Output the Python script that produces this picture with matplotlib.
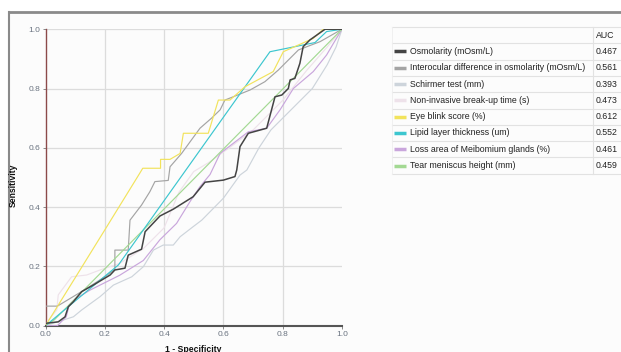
import matplotlib
matplotlib.use("Agg")
import matplotlib.pyplot as plt
from matplotlib.lines import Line2D
from matplotlib.patches import Rectangle

plt.rcParams['font.family'] = ['Liberation Sans', 'DejaVu Sans']

W, H = 621, 352

# ROC curves (1 - specificity, sensitivity)
osm_x = [0, 0.0, 0.043, 0.066, 0.077, 0.094, 0.122, 0.161, 0.218, 0.234, 0.268, 0.279, 0.324, 0.336,
         0.386, 0.431, 0.498, 0.538, 0.6, 0.639, 0.645, 0.656, 0.684, 0.746, 0.774, 0.797, 0.819,
         0.825, 0.841, 0.858, 0.869, 0.892, 0.943, 1.0]
osm_y = [0, 0.008, 0.013, 0.03, 0.064, 0.081, 0.115, 0.137, 0.171, 0.188, 0.194, 0.238, 0.258, 0.317,
         0.37, 0.393, 0.435, 0.484, 0.491, 0.503, 0.525, 0.604, 0.649, 0.666, 0.772, 0.778, 0.8,
         0.829, 0.834, 0.885, 0.941, 0.964, 1.0, 1.0]

inter_x = [0, 0, 0.04, 0.08, 0.13, 0.2, 0.234, 0.234, 0.279, 0.285, 0.324, 0.352, 0.369, 0.414, 0.42,
           0.459, 0.521, 0.56, 0.589, 0.605, 0.633, 0.69, 0.74, 0.785, 0.853, 0.926, 1.0]
inter_y = [0, 0.066, 0.066, 0.09, 0.12, 0.165, 0.19, 0.255, 0.255, 0.356, 0.407, 0.452, 0.486, 0.49,
           0.536, 0.581, 0.666, 0.70, 0.728, 0.761, 0.772, 0.795, 0.823, 0.862, 0.93, 0.958, 1.0]

schirmer_x = [0, 0.094, 0.122, 0.184, 0.229, 0.291, 0.33, 0.364, 0.397, 0.431, 0.454, 0.498, 0.527,
              0.6, 0.656, 0.679, 0.72, 0.76, 0.8, 0.85, 0.9, 0.95, 0.98, 1.0]
schirmer_y = [0, 0.03, 0.053, 0.098, 0.137, 0.165, 0.199, 0.255, 0.272, 0.272, 0.3, 0.334, 0.356,
              0.43, 0.508, 0.525, 0.6, 0.66, 0.7, 0.75, 0.8, 0.88, 0.94, 1.0]

nibut_x = [0, 0.01, 0.038, 0.043, 0.088, 0.139, 0.184, 0.25, 0.33, 0.4, 0.45, 0.5, 0.55, 0.62, 0.7,
           0.8, 0.88, 0.95, 1.0]
nibut_y = [0, 0.019, 0.053, 0.104, 0.165, 0.171, 0.188, 0.21, 0.26, 0.33, 0.45, 0.52, 0.55, 0.6, 0.66,
           0.76, 0.86, 0.94, 1.0]

blink_x = [0, 0.2, 0.319, 0.328, 0.388, 0.388, 0.42, 0.454, 0.465, 0.549, 0.583, 0.622, 0.673, 0.768,
           0.802, 0.903, 0.937, 1.0]
blink_y = [0, 0.323, 0.516, 0.531, 0.531, 0.561, 0.561, 0.581, 0.649, 0.649, 0.761, 0.761, 0.806, 0.857,
           0.924, 0.969, 1.0, 1.0]

lipid_x = [0, 0.246, 0.757, 0.909, 0.948, 1.0]
lipid_y = [0, 0.205, 0.924, 0.955, 0.992, 1.0]

loss_x = [0, 0.04, 0.07, 0.08, 0.1, 0.15, 0.25, 0.33, 0.386, 0.442, 0.487, 0.521, 0.555, 0.589, 0.684,
          0.746, 0.791, 0.836, 0.903, 0.948, 0.971, 1.0]
loss_y = [0, 0.0, 0.03, 0.07, 0.09, 0.12, 0.17, 0.22, 0.29, 0.345, 0.418, 0.469, 0.51, 0.581, 0.654,
          0.666, 0.728, 0.8, 0.857, 0.913, 0.952, 1.0]

tear_x = [0, 0.03, 1.0]
tear_y = [0, 0.02, 1.0]

names = ["Osmolarity (mOsm/L)",
         "Interocular difference in osmolarity (mOsm/L)",
         "Schirmer test (mm)",
         "Non-invasive break-up time (s)",
         "Eye blink score (%)",
         "Lipid layer thickness (um)",
         "Loss area of Meibomium glands (%)",
         "Tear meniscus height (mm)"]
auc = ["0.467", "0.561", "0.393", "0.473", "0.612", "0.552", "0.461", "0.459"]
colors = ["#444444", "#a4a4a4", "#cdd4db", "#eee2ea", "#f2e35c", "#3cc6cf", "#c9a6dc", "#a3d993"]
series = [(osm_x, osm_y), (inter_x, inter_y), (schirmer_x, schirmer_y), (nibut_x, nibut_y),
          (blink_x, blink_y), (lipid_x, lipid_y), (loss_x, loss_y), (tear_x, tear_y)]


def fx(px):
    return px / W


def fy(py):
    return 1 - py / H


fig = plt.figure(figsize=(W / 100, H / 100), dpi=100)
fig.patch.set_facecolor("white")

# panel frame
fig.patches.append(Rectangle((fx(9), 0), 1 - fx(9), fy(12), transform=fig.transFigure,
                             facecolor="#fcfcfc", edgecolor="none", zorder=-5))
fig.add_artist(Line2D([fx(9), 1], [fy(12), fy(12)], color="#8a8a8a", lw=2))
fig.add_artist(Line2D([fx(9), fx(9)], [fy(12), 0], color="#8a8a8a", lw=1.5))

ax = fig.add_axes([fx(45.5), fy(325.7), 296.5 / W, 296.5 / H])
ax.set_zorder(2)
ax.set_facecolor("none")
ax.set_xlim(0, 1)
ax.set_ylim(0, 1)

order = [3, 2, 6, 1, 7, 5, 4, 0]
for i in order:
    xs, ys = series[i]
    ax.plot(xs, ys, color=colors[i], lw=1.1 if i == 0 else 0.85, zorder=3 + (i == 0))

ticks = [0, 0.2, 0.4, 0.6, 0.8, 1.0]
ax.set_xticks(ticks)
ax.set_yticks(ticks)
ax.set_xticklabels(["%.1f" % t for t in ticks])
ax.set_yticklabels(["%.1f" % t for t in ticks])
ax.tick_params(labelsize=6, labelcolor="#6a7380", length=2, width=0.6, color="#777777", pad=1.5)
for t in ticks[1:]:
    if t < 1:
        ax.axvline(t, color="#dcdcdc", lw=0.9, zorder=1)
    ax.axhline(t, color="#dcdcdc", lw=0.9, zorder=1)

for s in ["top", "right"]:
    ax.spines[s].set_visible(False)
ax.spines["left"].set_color("#8c4a4a")
ax.spines["left"].set_linewidth(1.0)
ax.spines["bottom"].set_color("#555555")
ax.spines["bottom"].set_linewidth(1.5)

fig.text(fx(13), fy(185), "Sensitivity", rotation=90, fontsize=6.2, fontweight="bold",
         ha="center", va="center", color="#111111")
fig.text(fx(193), fy(349), "1 - Specificity", fontsize=6.2, fontweight="bold",
         ha="center", va="center", color="#111111")

# AUC table
tl, tr, top = 392, 621, 27
row_h = 16.3
divider = 593
nrows = len(names) + 1
for r in range(nrows + 1):
    y = top + r * row_h
    fig.add_artist(Line2D([fx(tl), fx(tr)], [fy(y), fy(y)], color="#e2e2e2", lw=0.8))
fig.add_artist(Line2D([fx(divider), fx(divider)], [fy(top), fy(top + nrows * row_h)],
                      color="#e2e2e2", lw=0.8))
fig.add_artist(Line2D([fx(tl), fx(tl)], [fy(top), fy(top + nrows * row_h)],
                      color="#eeeeee", lw=0.6))
fig.text(fx(divider + 3), fy(top + row_h / 2), "AUC", fontsize=6.3, ha="left", va="center",
         color="#222222")
for i, name in enumerate(names):
    yc = top + (i + 1.5) * row_h
    fig.add_artist(Line2D([fx(394), fx(406)], [fy(yc), fy(yc)], color=colors[i], lw=2.5,
                          solid_capstyle="butt"))
    fig.text(fx(410), fy(yc), name, fontsize=6.3, ha="left", va="center", color="#222222")
    fig.text(fx(divider + 3), fy(yc), auc[i], fontsize=6.3, ha="left", va="center", color="#222222")

fig.savefig("out.png", dpi=100)
